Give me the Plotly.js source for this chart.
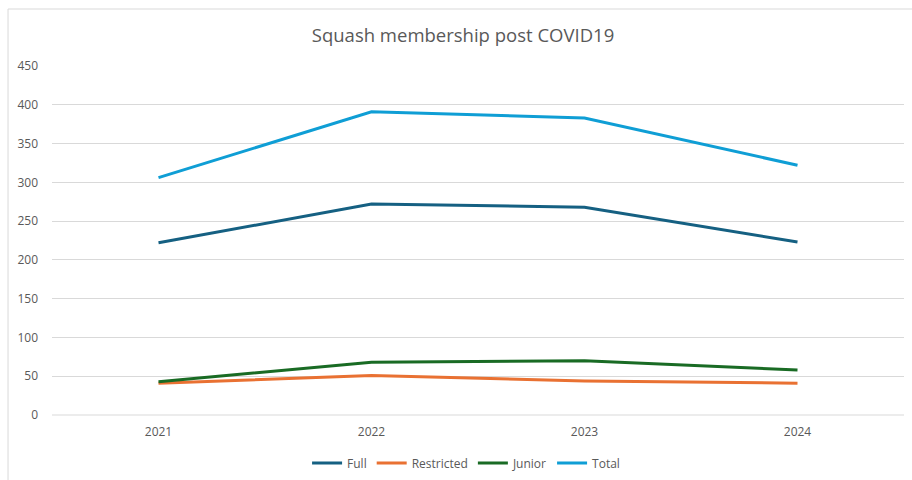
<!DOCTYPE html>
<html>
<head>
<meta charset="utf-8">
<script src="https://cdn.plot.ly/plotly-3.0.1.min.js"></script>
<style>html,body{margin:0;padding:0;background:#fff;}#chart{width:912px;height:480px;}</style>
</head>
<body>
<div id="chart"></div>
<script>
const years = ["2021", "2022", "2023", "2024"];
const full = [222, 272, 268, 223];
const restricted = [41, 51, 44, 41];
const junior = [43, 68, 70, 58];
const total = [306, 391, 383, 322];

const mk = (name, y, color) => ({
  type: "scatter", mode: "lines", name: name, x: years, y: y,
  line: {color: color, width: 3}
});

const traces = [
  mk("Full", full, "#156082"),
  mk("Restricted", restricted, "#E97132"),
  mk("Junior", junior, "#196B24"),
  mk("Total", total, "#0F9ED5")
];

const layout = {
  width: 912, height: 480,
  margin: {l: 52, r: 8, t: 66, b: 65, autoexpand: false},
  paper_bgcolor: "#ffffff", plot_bgcolor: "#ffffff",
  font: {family: "Open Sans, Liberation Sans, sans-serif", color: "#595959", size: 12},
  title: {text: "Squash membership post COVID19", x: 0.5077, xref: "container", xanchor: "center",
          y: 0.927, yref: "container", yanchor: "middle",
          font: {size: 18.5, color: "#595959"}},
  xaxis: {type: "category", range: [-0.5, 3.5], showgrid: false, zeroline: false,
          showline: false, ticks: "", ticklabelstandoff: 8,
          tickfont: {size: 12, color: "#595959"}, fixedrange: true},
  yaxis: {range: [0, 450], dtick: 50, tick0: 0, showgrid: true, gridcolor: "#d9d9d9", gridwidth: 1,
          zeroline: false, showline: false, ticks: "", ticklabelstandoff: 13,
          tickfont: {size: 12, color: "#595959"}, fixedrange: true},
  showlegend: true,
  legend: {orientation: "h", x: 0.486, xanchor: "center", y: -0.1375, yanchor: "middle",
           font: {size: 12, color: "#595959"}, itemwidth: 30, traceorder: "normal"},
  shapes: [
    {type: "line", xref: "paper", yref: "paper", x0: 0, x1: 1, y0: 0, y1: 0,
     line: {color: "#d9d9d9", width: 1}, layer: "below"},
    {type: "rect", xref: "paper", yref: "paper", x0: -0.0516, x1: 1.02, y0: -0.25, y1: 1.1633,
     line: {color: "#d9d9d9", width: 1}, fillcolor: "rgba(0,0,0,0)", layer: "below"}
  ]
};

Plotly.newPlot("chart", traces, layout, {displayModeBar: false, staticPlot: true});
</script>
</body>
</html>
